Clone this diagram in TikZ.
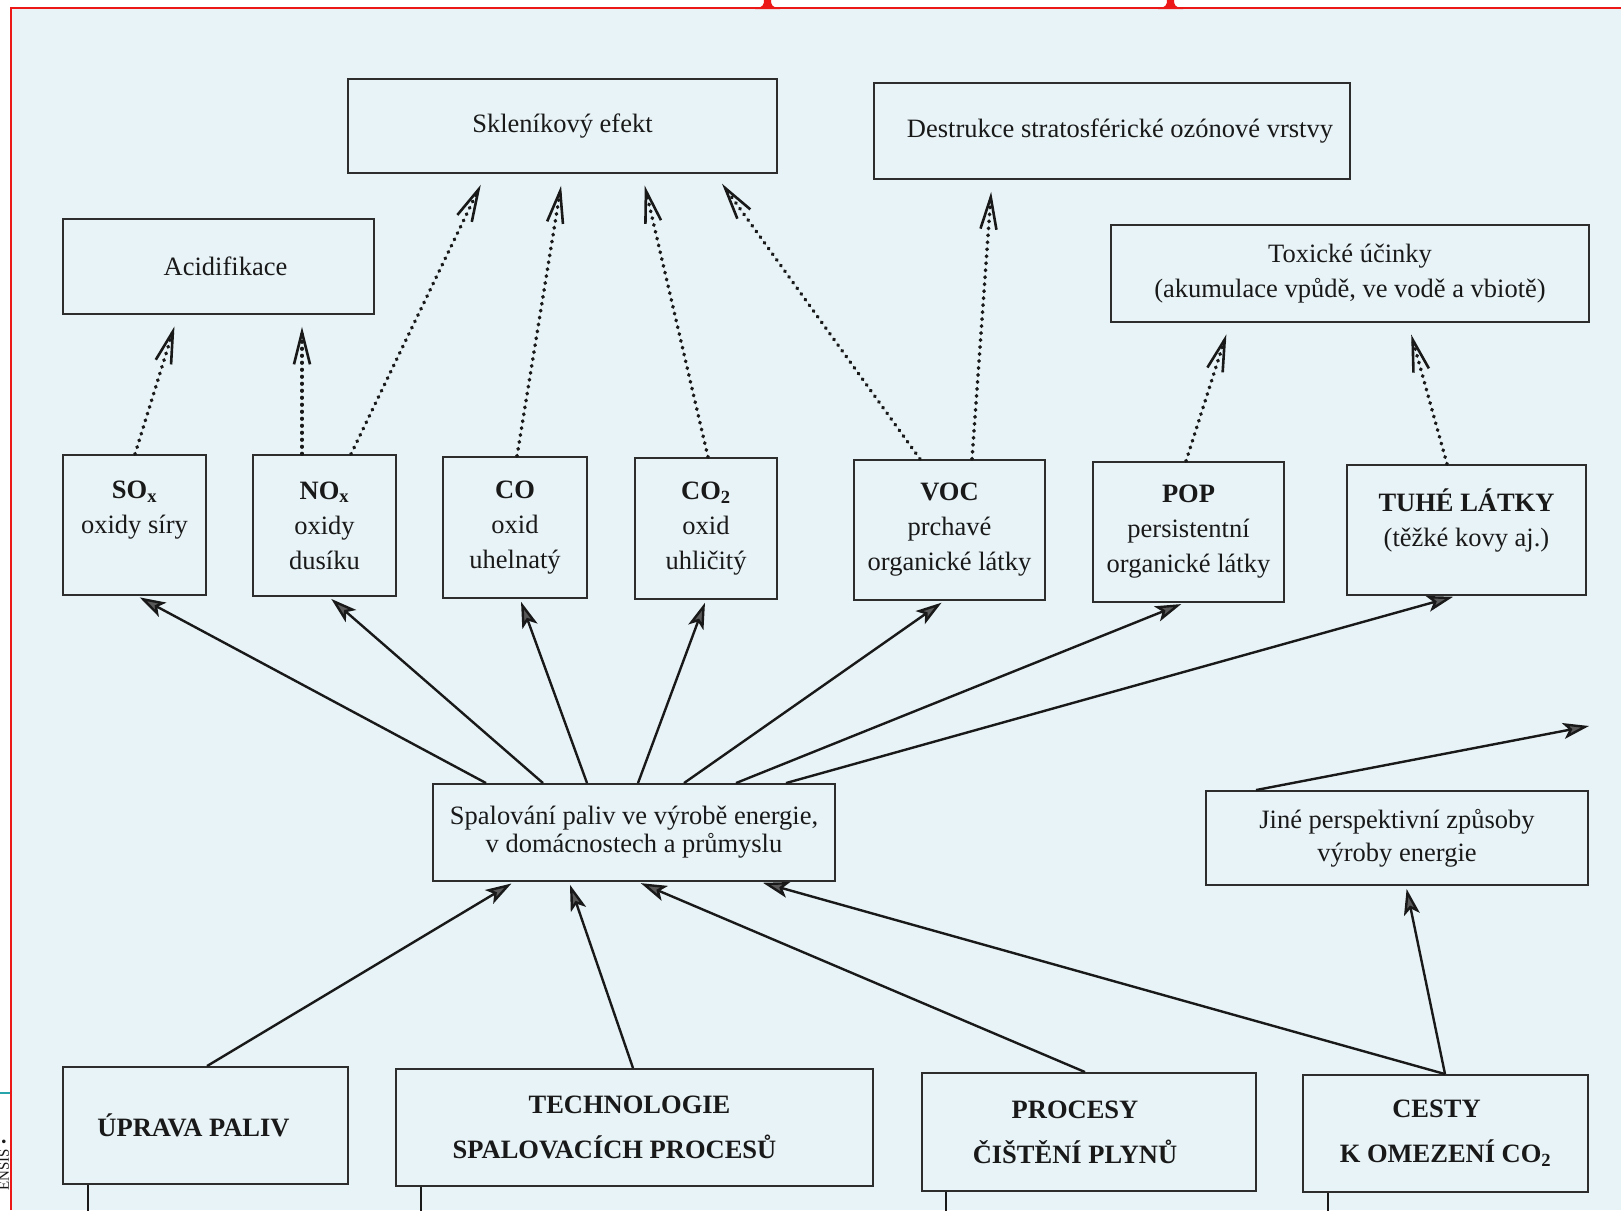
\documentclass[tikz,border=0pt]{standalone}
\usepackage{fontspec}
\setmainfont{Liberation Serif}
\usetikzlibrary{arrows.meta}
\definecolor{bg}{RGB}{232,243,247}
\definecolor{ink}{RGB}{25,25,25}
\definecolor{boxline}{RGB}{45,45,45}
\definecolor{framered}{RGB}{236,24,24}
\definecolor{tealline}{RGB}{40,165,170}
\begin{document}
\begin{tikzpicture}[x=1pt,y=-1pt,
  box/.style={draw=boxline, line width=1.9pt, inner sep=0pt, align=center, text=ink,
              font=\fontsize{26.5}{35}\selectfont},
  bbox/.style={box, font=\fontsize{26.5}{45}\selectfont\bfseries},
  dotarrow/.style={draw=ink, line width=3.6pt, dash pattern=on 0.6pt off 6.4pt, line cap=round,
                   -{Straight Barb[length=32pt,width=16pt,line width=2.6pt]}, shorten >=12pt},
  solidarrow/.style={draw=ink, line width=2.4pt,
                   -{Stealth[length=26pt,width=16pt,inset=6pt,fill=gray!70!black]}, shorten >=3pt},
  stub/.style={draw=ink, line width=1.9pt}
]
% page and scan background
\fill[white] (0,0) rectangle (1621,1210);
\fill[bg] (11,8) rectangle (1621,1210);
\useasboundingbox (0,0) rectangle (1621,1210);
\draw[framered, line width=2.6pt] (11,1210) -- (11,8) -- (1621,8);
\fill[framered] (755,9) .. controls (763,7) and (764,5) .. (764,0) -- (771,0)
      .. controls (771,5) and (772,7) .. (780,9) -- cycle;
\fill[framered] (1158,9) .. controls (1166,7) and (1167,5) .. (1167,0) -- (1174,0)
      .. controls (1174,5) and (1175,7) .. (1183,9) -- cycle;
\draw[tealline, line width=2.2pt] (0,1093) -- (10,1093);
\begin{scope}
  \clip (0,1100) rectangle (10,1210);
  \node[rotate=90, text=ink, font=\fontsize{15}{15}\selectfont, inner sep=0pt] (ensis) at (4,1165) {ENSIS •};
\end{scope}

% effect boxes
\node[box, minimum width=429pt, minimum height=94pt] (skl) at (562.5,126) {\raisebox{-4pt}{Skleníkový efekt}};
\node[box, minimum width=476pt, minimum height=96pt] (des) at (1112,131) {\hspace*{16pt}\raisebox{-3pt}{Destrukce stratosférické ozónové vrstvy}};
\node[box, minimum width=311pt, minimum height=95pt] (aci) at (218.5,266.5) {\hspace*{14pt}Acidifikace};
\node[box, minimum width=478pt, minimum height=97pt] (tox) at (1350,273.5) {Toxické účinky\\(akumulace vpůdě, ve vodě a vbiotě)};

% pollutants
\node[box, minimum width=143pt, minimum height=140pt] (so) at (134.5,525) {\textbf{SO\textsubscript{x}}\\oxidy síry\\\mbox{}};
\node[box, minimum width=143pt, minimum height=141pt] (no) at (324.5,525.5) {\textbf{NO\textsubscript{x}}\\oxidy\\dusíku};
\node[box, minimum width=144pt, minimum height=141pt] (co) at (515,527.5) {\textbf{CO}\\oxid\\uhelnatý};
\node[box, minimum width=142pt, minimum height=141pt] (co2) at (706,528.5) {\textbf{CO\textsubscript{2}}\\oxid\\uhličitý};
\node[box, minimum width=191pt, minimum height=140pt] (voc) at (949.5,530) {\textbf{VOC}\\prchavé\\organické látky};
\node[box, minimum width=191pt, minimum height=140pt] (pop) at (1188.5,532) {\textbf{POP}\\persistentní\\organické látky};
\node[box, minimum width=239pt, minimum height=130pt] (tuhe) at (1466.5,530) {\textbf{TUHÉ LÁTKY}\\(těžké kovy aj.)\\[-10pt]\mbox{}};

% sources
\node[box, minimum width=402pt, minimum height=97pt, font=\fontsize{26.5}{28}\selectfont] (spal) at (634,832.5) {Spalování paliv ve výrobě energie,\\v domácnostech a průmyslu};
\node[box, minimum width=382pt, minimum height=94pt, font=\fontsize{26.5}{33}\selectfont] (jine) at (1397,838) {Jiné perspektivní způsoby\\výroby energie};

% measures
\node[bbox, minimum width=285pt, minimum height=117pt] (upr) at (205.5,1125.5) {\hspace*{-24pt}ÚPRAVA PALIV};
\node[bbox, minimum width=477pt, minimum height=117pt] (tech) at (634.5,1127.5) {\hspace*{-10pt}TECHNOLOGIE\\\hspace*{-40pt}SPALOVACÍCH PROCESŮ};
\node[bbox, minimum width=334pt, minimum height=118pt] (proc) at (1089,1132) {\hspace*{-28pt}PROCESY\\\hspace*{-28pt}ČIŠTĚNÍ PLYNŮ};
\node[bbox, minimum width=285pt, minimum height=117pt] (cest) at (1445.5,1133.5) {\hspace*{-18pt}CESTY\\K OMEZENÍ CO\textsubscript{2}};

% dotted effect arrows
\draw[dotarrow] ([xshift=0.5pt]so.north) -- ([xshift=-40.5pt]aci.south);
\draw[dotarrow] ([xshift=-22.5pt]no.north) -- ([xshift=83.5pt]aci.south);
\draw[dotarrow] ([xshift=26.5pt]no.north) -- ([xshift=-76.5pt]skl.south);
\draw[dotarrow] ([xshift=2pt]co.north) -- ([xshift=0.5pt]skl.south);
\draw[dotarrow] ([xshift=2pt]co2.north) -- ([xshift=79.5pt]skl.south);
\draw[dotarrow] ([xshift=-29.5pt]voc.north) -- ([xshift=152.5pt]skl.south);
\draw[dotarrow] ([xshift=22.5pt]voc.north) -- ([xshift=-120pt]des.south);
\draw[dotarrow] ([xshift=-2.5pt]pop.north) -- ([xshift=-120pt]tox.south);
\draw[dotarrow] ([xshift=-19.5pt]tuhe.north) -- ([xshift=58pt]tox.south);

% combustion to pollutants
\draw[solidarrow] ([xshift=-148pt]spal.north) -- ([xshift=2.5pt]so.south);
\draw[solidarrow] ([xshift=-91pt]spal.north) -- ([xshift=4.5pt]no.south);
\draw[solidarrow] ([xshift=-47pt]spal.north) -- ([xshift=5pt]co.south);
\draw[solidarrow] ([xshift=4pt]spal.north) -- ([xshift=0pt]co2.south);
\draw[solidarrow] ([xshift=50pt]spal.north) -- ([xshift=-5.5pt]voc.south);
\draw[solidarrow] ([xshift=102pt]spal.north) -- ([xshift=-4.5pt]pop.south);
\draw[solidarrow] ([xshift=152pt]spal.north) -- ([xshift=-10.5pt]tuhe.south);

% other energy sources
\coordinate (jend) at (1589,726);
\draw[solidarrow, shorten >=0pt] ([xshift=-141pt]jine.north) -- (jend);

% measures to combustion
\draw[solidarrow] ([xshift=1.5pt]upr.north) -- ([xshift=-120pt]spal.south);
\draw[solidarrow] ([xshift=-1.5pt]tech.north) -- ([xshift=-65pt]spal.south);
\draw[solidarrow] ([xshift=-4pt]proc.north) -- ([xshift=4pt]spal.south);
\draw[solidarrow] ([xshift=-0.5pt]cest.north) -- ([xshift=126pt]spal.south);
\draw[solidarrow] ([xshift=-0.5pt]cest.north) -- ([xshift=9pt]jine.south);

% stubs leaving the page bottom
\coordinate (ub) at (88,1212);
\coordinate (tb) at (421,1212);
\coordinate (pb) at (946,1212);
\coordinate (cb) at (1328,1212);
\draw[stub] ([xshift=-117.5pt]upr.south) -- (ub);
\draw[stub] ([xshift=-213.5pt]tech.south) -- (tb);
\draw[stub] ([xshift=-143pt]proc.south) -- (pb);
\draw[stub] ([xshift=-117.5pt]cest.south) -- (cb);
\end{tikzpicture}
\end{document}
